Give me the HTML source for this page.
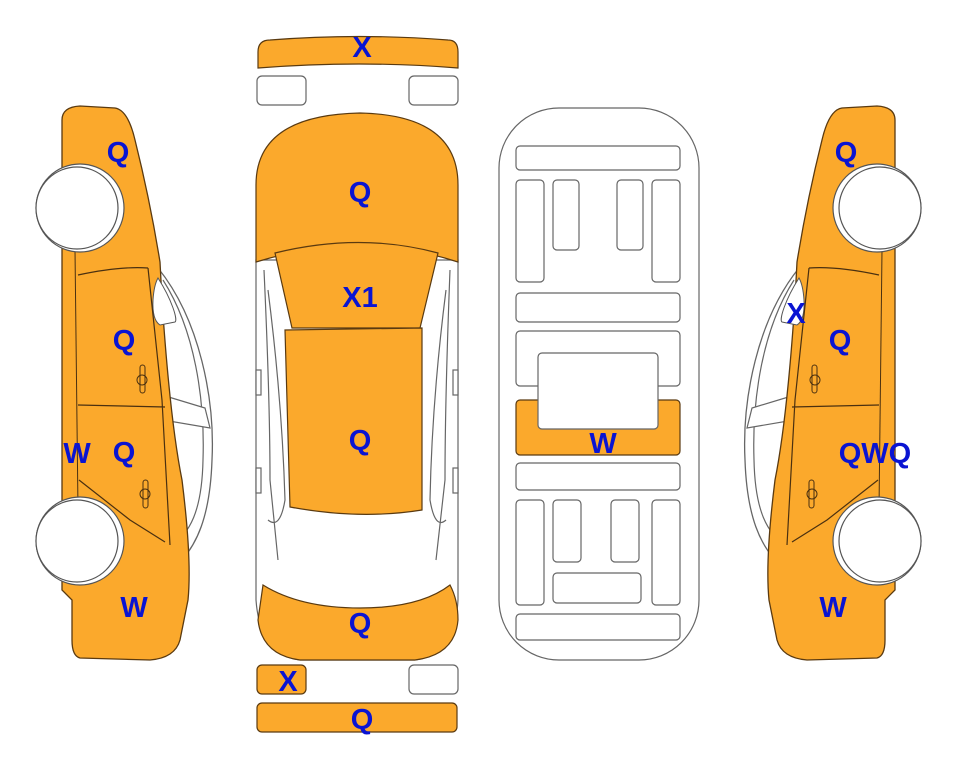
<!DOCTYPE html>
<html><head><style>
body{margin:0;background:#fff;width:963px;height:768px;overflow:hidden}
text{font-family:"Liberation Sans",Arial,sans-serif;font-weight:bold;font-size:29px;fill:#0a14d2;text-anchor:middle}
</style></head><body>
<svg width="963" height="768" viewBox="0 0 963 768" xmlns="http://www.w3.org/2000/svg">
<defs>
<g id="side">
 <!-- glass/greenhouse outline -->
 <path d="M158,268 C200,320 215,400 212,460 C210,520 195,545 182,560" fill="#fff" stroke="#666" stroke-width="1.3"/>
 <path d="M163,280 C195,330 205,400 203,460 C202,510 190,535 170,545" fill="none" stroke="#666" stroke-width="1.2"/>
 <path d="M162,395 L205,408 L210,428 L163,420 Z" fill="#fff" stroke="#666" stroke-width="1.2"/>
 <!-- body -->
 <path d="M62,120 Q62,107 80,106 L115,108 Q128,110 135,140 Q150,200 160,262 L162,300 Q170,420 182,480 Q192,560 188,600 L180,640 Q175,658 150,660 L80,658 Q72,656 72,640 L72,600 L62,590 Z" fill="#fba92c" stroke="#5a3a10" stroke-width="1.3"/>
 <!-- window corner white -->
 <path d="M158,278 C172,300 178,320 175,322 L160,325 Q152,320 153,300 Q154,285 158,278 Z" fill="#fff" stroke="#555" stroke-width="1"/>
 <!-- door lines -->
 <path d="M78,275 Q120,266 148,268 M148,268 L162,400 L170,545 M78,405 L165,407 M79,480 L130,520 L165,542 M95,510 L95,535" fill="none" stroke="#4a3010" stroke-width="1.2"/>
 <path d="M75,250 L78,510" fill="none" stroke="#4a3010" stroke-width="1"/>
 <rect x="140" y="365" width="5" height="28" rx="2.5" fill="none" stroke="#4a3010"/>
 <circle cx="142" cy="380" r="5" fill="none" stroke="#4a3010"/>
 <rect x="143" y="480" width="5" height="28" rx="2.5" fill="none" stroke="#4a3010"/>
 <circle cx="145" cy="494" r="5" fill="none" stroke="#4a3010"/>
 <!-- wheels -->
 <circle cx="80" cy="208" r="44" fill="#fff" stroke="#555" stroke-width="1.2"/>
 <circle cx="77" cy="208" r="41" fill="#fff" stroke="#555" stroke-width="1.2"/>
 <circle cx="80" cy="541" r="44" fill="#fff" stroke="#555" stroke-width="1.2"/>
 <circle cx="77" cy="541" r="41" fill="#fff" stroke="#555" stroke-width="1.2"/>
</g>
</defs>
<use href="#side"/>
<use href="#side" transform="translate(957,0) scale(-1,1)"/>

<!-- top view -->
<g stroke="#666" stroke-width="1.2">
 <path d="M258,52 Q258,40 270,40 Q360,33 448,40 Q458,40 458,52 L458,68 Q360,60 258,68 Z" fill="#fba92c" stroke="#5a3a10"/>
 <rect x="257" y="76" width="49" height="29" rx="5" fill="#fff"/>
 <rect x="409" y="76" width="49" height="29" rx="5" fill="#fff"/>
 <rect x="257" y="665" width="49" height="29" rx="5" fill="#fba92c" stroke="#5a3a10"/>
 <rect x="409" y="665" width="49" height="29" rx="5" fill="#fff"/>
 <rect x="257" y="703" width="200" height="29" rx="5" fill="#fba92c" stroke="#5a3a10"/>
 <!-- body outline -->
 <path d="M256,260 L256,600 Q260,655 300,660 L415,660 Q455,655 458,600 L458,260 Z" fill="#fff"/>
 <path d="M264,270 Q270,400 270,480 L278,560 M450,270 Q445,400 445,480 L436,560" fill="none"/>
 <path d="M268,290 Q282,400 285,500 Q280,530 268,520 M446,290 Q432,400 430,500 Q435,530 446,520" fill="none"/>
 <path d="M256,185 Q256,115 360,113 Q458,115 458,185 L458,262 Q360,230 256,262 Z" fill="#fba92c" stroke="#5a3a10"/>
 <path d="M275,253 Q360,232 438,253 L420,328 L292,328 Z" fill="#fba92c" stroke="#5a3a10"/>
 <path d="M285,330 L422,328 L422,510 Q360,520 290,507 Z" fill="#fba92c" stroke="#5a3a10"/>
 <path d="M263,585 Q300,608 360,608 Q420,608 450,585 Q458,600 458,620 Q455,655 415,660 L300,660 Q262,655 258,620 Z" fill="#fba92c" stroke="#5a3a10"/>
 <rect x="256" y="370" width="5" height="25" fill="#fff"/><rect x="453" y="370" width="5" height="25" fill="#fff"/>
 <rect x="256" y="468" width="5" height="25" fill="#fff"/><rect x="453" y="468" width="5" height="25" fill="#fff"/>
</g>

<!-- underbody -->
<g stroke="#666" stroke-width="1.2" fill="#fff">
 <rect x="499" y="108" width="200" height="552" rx="60"/>
 <rect x="516" y="146" width="164" height="24" rx="4"/>
 <rect x="516" y="180" width="28" height="102" rx="4"/>
 <rect x="553" y="180" width="26" height="70" rx="4"/>
 <rect x="617" y="180" width="26" height="70" rx="4"/>
 <rect x="652" y="180" width="28" height="102" rx="4"/>
 <rect x="516" y="293" width="164" height="29" rx="4"/>
 <rect x="516" y="331" width="164" height="55" rx="4"/>
 <rect x="516" y="400" width="164" height="55" rx="4" fill="#fba92c" stroke="#5a3a10"/>
 <rect x="538" y="353" width="120" height="76" rx="4"/>
 <rect x="516" y="463" width="164" height="27" rx="4"/>
 <rect x="516" y="500" width="28" height="105" rx="4"/>
 <rect x="553" y="500" width="28" height="62" rx="4"/>
 <rect x="611" y="500" width="28" height="62" rx="4"/>
 <rect x="652" y="500" width="28" height="105" rx="4"/>
 <rect x="553" y="573" width="88" height="30" rx="4"/>
 <rect x="516" y="614" width="164" height="26" rx="4"/>
</g>

<!-- labels -->
<text x="362" y="57">X</text>
<text x="118" y="162">Q</text>
<text x="124" y="350">Q</text>
<text x="77" y="463">W</text>
<text x="124" y="462">Q</text>
<text x="134" y="617">W</text>
<text x="360" y="202">Q</text>
<text x="360" y="307">X1</text>
<text x="360" y="450">Q</text>
<text x="360" y="633">Q</text>
<text x="288" y="691">X</text>
<text x="362" y="729">Q</text>
<text x="603" y="453">W</text>
<text x="846" y="162">Q</text>
<text x="796" y="323">X</text>
<text x="840" y="350">Q</text>
<text x="875" y="463">QWQ</text>
<text x="833" y="617">W</text>
</svg>
</body></html>
